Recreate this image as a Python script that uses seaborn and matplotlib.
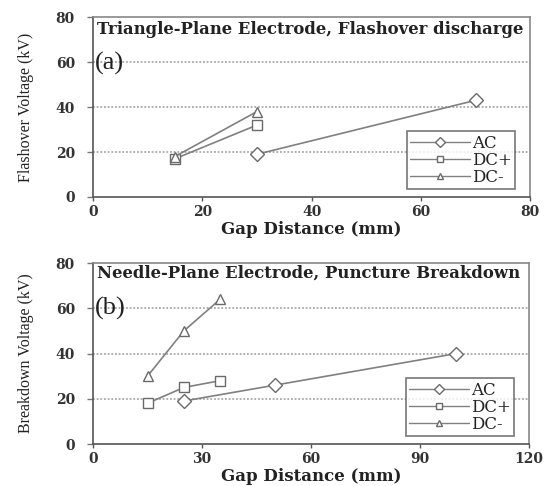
import matplotlib
matplotlib.use("Agg")
import matplotlib.pyplot as plt
import seaborn as sns
import pandas as pd

# Panel (a): Triangle-Plane Electrode, Flashover discharge
a_ac_x = [30, 70]
a_ac_y = [19, 43]
a_dcp_x = [15, 30]
a_dcp_y = [17, 32]
a_dcn_x = [15, 30]
a_dcn_y = [18, 38]

# Panel (b): Needle-Plane Electrode, Puncture Breakdown
b_ac_x = [25, 50, 100]
b_ac_y = [19, 26, 40]
b_dcp_x = [15, 25, 35]
b_dcp_y = [18, 25, 28]
b_dcn_x = [15, 25, 35]
b_dcn_y = [30, 50, 64]

series_names = ["AC", "DC+", "DC-"]
a_xticks = [0, 20, 40, 60, 80]
b_xticks = [0, 30, 60, 90, 120]
yticks = [0, 20, 40, 60, 80]

sns.set_theme(style="white")
plt.rcParams["font.family"] = ["Liberation Serif", "DejaVu Serif"]

WIDE = ["DejaVu Serif", "Liberation Serif"]


def make_df(xs, ys):
    rows = []
    for name, x, y in zip(series_names, xs, ys):
        for xi, yi in zip(x, y):
            rows.append({"series": name, "gap": xi, "v": yi})
    return pd.DataFrame(rows)


fig = plt.figure(figsize=(5.52, 4.86), dpi=100)
ax1 = fig.add_axes([0.1685, 0.5947, 0.792, 0.370])
ax2 = fig.add_axes([0.1685, 0.0864, 0.790, 0.3724])

markers = {"AC": "D", "DC+": "s", "DC-": "^"}
pal = {"AC": "#808080", "DC+": "#808080", "DC-": "#808080"}


def draw(ax, df, xticks, xmax, title, tag, ylabel, title_y, tag_y):
    sns.lineplot(data=df, x="gap", y="v", hue="series", style="series",
                 markers=markers, dashes=False, palette=pal, ax=ax,
                 legend=False, linewidth=1.2, markersize=7.5,
                 hue_order=series_names, style_order=series_names)
    for ln in ax.lines:
        ln.set_markerfacecolor("white")
        ln.set_markeredgecolor("#6a6a6a")
        ln.set_markeredgewidth(1.0)
    ax.set_xlim(0, xmax)
    ax.set_ylim(0, 80)
    ax.set_xticks(xticks)
    ax.set_yticks(yticks)
    for yv in [20, 40, 60]:
        ax.axhline(yv, color="#9a9a9a", linestyle=(0, (1.2, 1.2)), linewidth=1.1, zorder=0)
    ax.tick_params(axis="x", bottom=True, length=3, width=1, pad=3,
                   colors="#555555")
    ax.tick_params(axis="y", left=True, length=4, width=1, pad=9,
                   colors="#777777")
    for lbl in ax.get_xticklabels() + ax.get_yticklabels():
        lbl.set_fontweight("bold")
        lbl.set_color("#333333")
        lbl.set_family(WIDE)
        lbl.set_fontsize(10)
    for s in ["top", "right"]:
        ax.spines[s].set_color("#888888")
        ax.spines[s].set_linewidth(1.2)
    for s in ["left", "bottom"]:
        ax.spines[s].set_color("#555555")
        ax.spines[s].set_linewidth(1.2)
    ax.set_xlabel("Gap Distance (mm)", fontsize=12, fontweight="bold",
                  color="#222222", family=WIDE, labelpad=1)
    ax.set_ylabel(ylabel, fontsize=11.5, color="#222222")
    ax.yaxis.set_label_coords(-0.135, 0.5)
    ax.text(0.008, title_y, title, transform=ax.transAxes, fontsize=11.9,
            fontweight="bold", color="#222222", va="center", ha="left",
            family=WIDE)
    ax.text(0.004, tag_y, tag, transform=ax.transAxes, fontsize=19,
            color="#222222", va="center", ha="left")
    leg = ax.legend(ax.lines[:3], series_names, loc="lower right",
                    bbox_to_anchor=(0.9657, 0.045), frameon=True, fancybox=False,
                    prop={"family": WIDE, "size": 12}, handlelength=3.6,
                    handletextpad=0.1, borderpad=0.2, labelspacing=0.0,
                    borderaxespad=0)
    leg.get_frame().set_edgecolor("#555555")
    leg.get_frame().set_linewidth(1.2)
    for h in leg.legend_handles:
        h.set_markersize(5)
        h.set_linewidth(1.0)
    for t in leg.get_texts():
        t.set_color("#222222")


draw(ax1, make_df([a_ac_x, a_dcp_x, a_dcn_x], [a_ac_y, a_dcp_y, a_dcn_y]),
     a_xticks, 80, "Triangle-Plane Electrode, Flashover discharge", "(a)",
     "Flashover Voltage (kV)", 0.933, 0.744)
draw(ax2, make_df([b_ac_x, b_dcp_x, b_dcn_x], [b_ac_y, b_dcp_y, b_dcn_y]),
     b_xticks, 120, "Needle-Plane Electrode, Puncture Breakdown", "(b)",
     "Breakdown Voltage (kV)", 0.945, 0.75)

fig.savefig("out.png", dpi=100)
